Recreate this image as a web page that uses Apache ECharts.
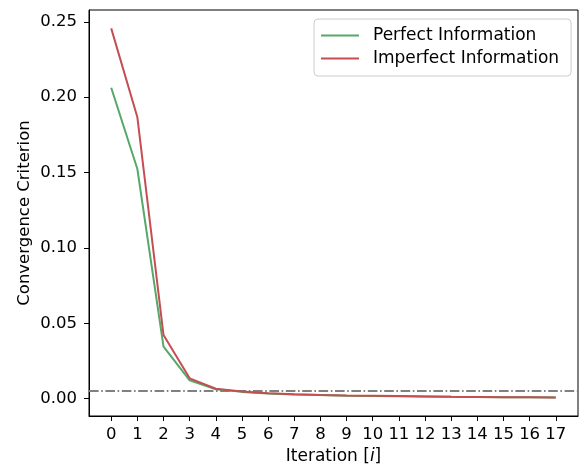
<!DOCTYPE html>
<html><head><meta charset="utf-8">
<script src="https://cdn.jsdelivr.net/npm/echarts@6/dist/echarts.min.js"></script>
<style>html,body{margin:0;padding:0;background:#fff}#c{width:580px;height:466px}</style>
</head><body><div id="c"></div>
<script>
const iterations = [0,1,2,3,4,5,6,7,8,9,10,11,12,13,14,15,16,17];
const perfect = [0.2062,0.1523,0.0345,0.0122,0.0062,0.0045,0.0034,0.0028,0.0024,0.0020,0.0018,0.0016,0.0014,0.0012,0.0011,0.0010,0.0009,0.0008];
const imperfect = [0.2456,0.1866,0.0422,0.0135,0.0066,0.0047,0.0036,0.0030,0.0025,0.0021,0.0019,0.0017,0.0015,0.0012,0.0011,0.0010,0.0009,0.0007];
const threshold = 0.005;
const yTicks = [0,0.05,0.10,0.15,0.20,0.25];
const xMin = -0.85, xMax = 17.85;
const FONT = 'DejaVu Sans';
const FS = 16.5;
const FS2 = 17;
const chart = echarts.init(document.getElementById('c'));
chart.setOption({
  animation:false,
  grid:{left:89,top:10,right:2,bottom:50,outerBoundsMode:'none',containLabel:false,show:true,borderColor:'#000',borderWidth:1,backgroundColor:'transparent'},
  xAxis:{type:'value',min:xMin,max:xMax,
    name:'{a|Iteration [}{b|i}{a|]}',nameLocation:'middle',nameGap:31,
    nameTextStyle:{rich:{a:{fontFamily:FONT,fontSize:FS2,color:'#000'},b:{fontFamily:FONT,fontSize:FS2,fontStyle:'italic',color:'#000'}}},
    axisLine:{show:true,onZero:false,lineStyle:{color:'#000',width:1}},
    axisTick:{show:true,length:5,customValues:iterations,lineStyle:{color:'#000'}},
    axisLabel:{customValues:iterations,fontFamily:FONT,fontSize:FS,color:'#000',margin:10},
    splitLine:{show:false}},
  yAxis:{type:'value',min:-0.0115,max:0.2578,
    name:'Convergence Criterion',nameLocation:'middle',nameGap:56,nameMoveOverlap:false,
    nameTextStyle:{fontFamily:FONT,fontSize:FS,color:'#000'},
    axisLine:{show:true,onZero:false,lineStyle:{color:'#000',width:1}},
    axisTick:{show:true,length:5,customValues:yTicks,lineStyle:{color:'#000'}},
    axisLabel:{customValues:yTicks,fontFamily:FONT,fontSize:FS,color:'#000',margin:12,formatter:v=>v.toFixed(2)},
    splitLine:{show:false}},
  legend:{orient:'vertical',left:314,top:19,padding:[8,12,9,7],itemGap:6,itemWidth:38,itemHeight:2,
    borderColor:'#ccc',borderWidth:1,borderRadius:4,backgroundColor:'rgba(255,255,255,0.8)',
    textStyle:{fontFamily:FONT,fontSize:FS2,color:'#000',padding:[0,0,0,9]},
    data:[{name:'Perfect Information',icon:'rect'},{name:'Imperfect Information',icon:'rect'}]},
  series:[
    {name:'threshold',type:'line',data:[[xMin,threshold],[xMax,threshold]],showSymbol:false,symbol:'none',silent:true,
     lineStyle:{color:'#808080',width:2,type:[9.6,2.6,1.6,2.6]},z:2},
    {name:'Perfect Information',type:'line',data:iterations.map((x,i)=>[x,perfect[i]]),showSymbol:false,symbol:'none',
     lineStyle:{color:'#55a868',width:2},itemStyle:{color:'#55a868'},z:3},
    {name:'Imperfect Information',type:'line',data:iterations.map((x,i)=>[x,imperfect[i]]),showSymbol:false,symbol:'none',
     lineStyle:{color:'#c44e52',width:2},itemStyle:{color:'#c44e52'},z:4}
  ]
});
</script></body></html>
